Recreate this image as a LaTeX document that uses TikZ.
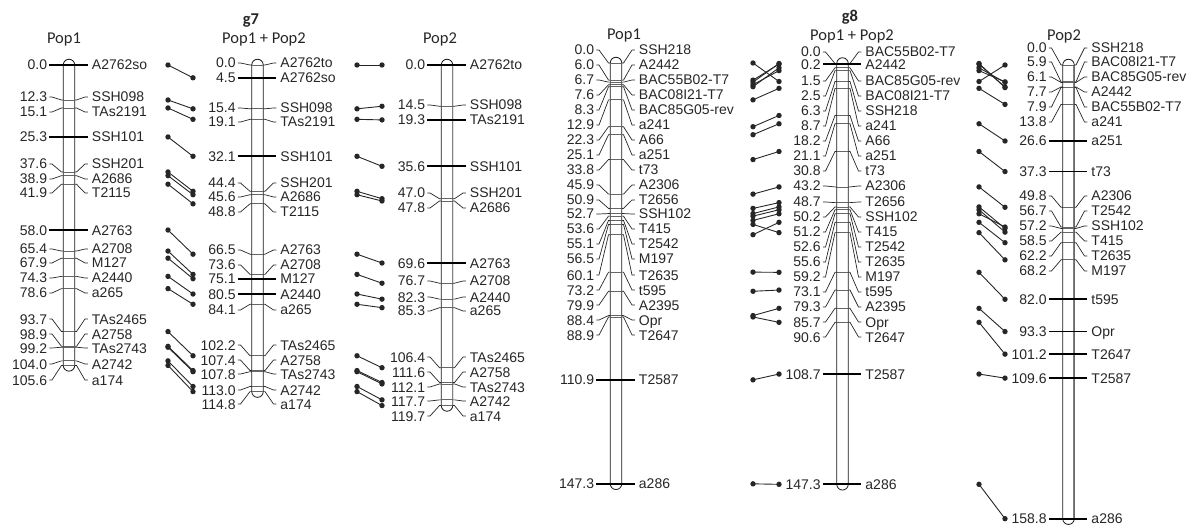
\documentclass[tikz,border=0pt]{standalone}
\usepackage{fontspec}
\setmainfont{Liberation Sans}
\newfontfamily\titlefont{Carlito}
\tikzset{
  lab/.style={font=\fontsize{14}{16}\selectfont, text=black!85, inner sep=0pt, text height=10pt, text depth=0pt},
  ttl/.style={font=\titlefont\fontsize{16.5}{18}\selectfont, text=black!85, inner sep=0pt},
  ttlb/.style={font=\titlefont\bfseries\fontsize{16.5}{18}\selectfont, text=black!85, inner sep=0pt},
  conn/.style={line width=0.7pt, draw=black!85},
  thk/.style={line width=1.8pt, draw=black},
  mytick/.style={line width=0.8pt, draw=black!60},
  barst/.style={line width=0.8pt, draw=black!90, fill=white},
  dotl/.style={line width=0.9pt, draw=black!85},
  dotf/.style={fill=black!85},
}
% bar: #1 xc, #2 y0, #3 y end
\newcommand\drawbar[3]{%
  \draw[barst, rounded corners=5.75pt] ({#1-5.75},{#2-5.75}) rectangle ({#1+5.75},{#3+5.75});}
\newcommand\graybar[3]{%
  \draw[black!50, line width=1.1pt] ({#1+5.2},{#2}) -- ({#1+5.2},{#3});}
% markers: #1 id, #2 xc, #3 y0, #4 scale ; list in \mlist
\newcommand\markers[4]{%
  \foreach \cm/\ly/\nm/\tk in \mlist {%
    \pgfmathsetmacro\ay{#3+#4*\cm}%
    \ifnum\tk=1
      \draw[thk] ({#2-19.75},\ay) -- ({#2+18.75},\ay);
      \node[lab,anchor=east] (#1-num-\nm) at ({#2-21.75},\ay) {\cm};
      \node[lab,anchor=west] (#1-\nm) at ({#2+22.75},\ay) {\nm};
    \else
      \draw[mytick] ({#2-5.75},\ay) -- ({#2+5.75},\ay);
      \draw[conn] ({#2-19.75},\ly) -- ({#2-17},\ly) -- ({#2-7.5},\ay) -- ({#2-5.75},\ay);
      \draw[conn] ({#2+5.75},\ay) -- ({#2+7.5},\ay) -- ({#2+16},\ly) -- ({#2+18.75},\ly);
      \node[lab,anchor=east] (#1-num-\nm) at ({#2-21.75},\ly) {\cm};
      \node[lab,anchor=west] (#1-\nm) at ({#2+22.75},\ly) {\nm};
    \fi
  }}
% links: #1 x1, #2 y0a, #3 sa, #4 x2, #5 y0b, #6 sb ; list in \llist
\newcommand\links[6]{%
  \foreach \pa/\pb in \llist {%
    \pgfmathsetmacro\ya{#2+#3*\pa}%
    \pgfmathsetmacro\yb{#5+#6*\pb}%
    \coordinate (la) at (#1,\ya);
    \coordinate (lb) at (#4,\yb);
    \draw[dotl] (la) -- (lb);
    \fill[dotf] (la) circle (2.7) (lb) circle (2.7);
  }}
\begin{document}
\begin{tikzpicture}[x=1pt,y=-1pt]
\useasboundingbox (0,0) rectangle (1190,526);
% ---------------- titles
\node[ttl] (tA) at (64,40) {Pop1};
\node[ttlb] (tg7) at (251,21) {g7};
\node[ttl] (tB) at (264,39) {Pop1 + Pop2};
\node[ttl] (tC) at (440,39) {Pop2};
\node[ttl] (tD) at (624,36) {Pop1};
\node[ttlb] (tg8) at (850,17) {g8};
\node[ttl] (tE) at (852,36) {Pop1 + Pop2};
\node[ttl] (tF) at (1064,36) {Pop2};
% ---------------- bars
\drawbar{69}{65}{365.4}
\drawbar{257.5}{65}{391.6}
\drawbar{447}{65}{405.5}
\graybar{447}{65}{405.5}
\drawbar{616}{63}{483.8}
\drawbar{842.5}{63.5}{484.3}
\drawbar{1068.5}{65}{518.7}
\graybar{1068.5}{65}{518.7}
% ---------------- g7 Pop1
\def\mlist{0.0/65/A2762so/1, 12.3/97/SSH098/0, 15.1/112/TAs2191/0, 25.3/137/SSH101/1,
 37.6/164/SSH201/0, 38.9/179/A2686/0, 41.9/193/T2115/0, 58.0/230/A2763/1,
 65.4/249/A2708/0, 67.9/263/M127/0, 74.3/278/A2440/0, 78.6/293/a265/0,
 93.7/319/TAs2465/0, 98.9/334/A2758/0, 99.2/348/TAs2743/0, 104.0/364/A2742/0, 105.6/380/a174/0}
\markers{aA}{69}{65}{2.845}
% ---------------- g7 Pop1+Pop2
\def\mlist{0.0/63/A2762to/0, 4.5/79/A2762so/1, 15.4/108/SSH098/0, 19.1/122/TAs2191/0,
 32.1/156/SSH101/1, 44.4/183/SSH201/0, 45.6/197/A2686/0, 48.8/212/T2115/0,
 66.5/250/A2763/0, 73.6/265/A2708/0, 75.1/279/M127/1, 80.5/294/A2440/1,
 84.1/310/a265/0, 102.2/345/TAs2465/0, 107.4/360/A2758/0, 107.8/374/TAs2743/0,
 113.0/390/A2742/0, 114.8/404/a174/0}
\markers{aB}{257.5}{65}{2.845}
% ---------------- g7 Pop2
\def\mlist{0.0/65/A2762to/1, 14.5/105/SSH098/0, 19.3/120/TAs2191/1, 35.6/166/SSH101/1,
 47.0/193/SSH201/0, 47.8/208/A2686/0, 69.6/263/A2763/1, 76.7/281/A2708/0,
 82.3/297/A2440/0, 85.3/311/a265/0, 106.4/357/TAs2465/0, 111.6/372/A2758/0,
 112.1/387/TAs2743/0, 117.7/401/A2742/0, 119.7/416/a174/0}
\markers{aC}{447}{65}{2.845}
% ---------------- g8 Pop1
\def\mlist{0.0/50/SSH218/0, 6.0/65/A2442/0, 6.7/80/BAC55B02-T7/0, 7.6/95/BAC08I21-T7/0,
 8.3/110/BAC85G05-rev/0, 12.9/125/a241/0, 22.3/140/A66/0, 25.1/155/a251/0,
 33.8/170/t73/0, 45.9/185/A2306/0, 50.9/200/T2656/0, 52.7/214/SSH102/0,
 53.6/229/T415/0, 55.1/244/T2542/0, 56.5/259/M197/0, 60.1/275/T2635/0,
 73.2/290/t595/0, 79.9/305/A2395/0, 88.4/320/Opr/0, 88.9/335/T2647/0,
 110.9/381/T2587/1, 147.3/485/a286/1}
\markers{bA}{616}{63}{2.857}
% ---------------- g8 Pop1+Pop2
\def\mlist{0.0/52/BAC55B02-T7/0, 0.2/66/A2442/1, 1.5/81/BAC85G05-rev/0, 2.5/96/BAC08I21-T7/0,
 6.3/111/SSH218/0, 8.7/126/a241/0, 18.2/141/A66/0, 21.1/156/a251/0,
 30.8/171/t73/0, 43.2/186/A2306/0, 48.7/202/T2656/0, 50.2/217/SSH102/0,
 51.2/232/T415/0, 52.6/247/T2542/0, 55.6/262/T2635/0, 59.2/277/M197/0,
 73.1/292/t595/0, 79.3/307/A2395/0, 85.7/322/Opr/0, 90.6/337/T2647/0,
 108.7/374/T2587/1, 147.3/485/a286/1}
\markers{bB}{842.5}{63.5}{2.857}
% ---------------- g8 Pop2
\def\mlist{0.0/48/SSH218/0, 5.9/62/BAC08I21-T7/0, 6.1/77/BAC85G05-rev/0, 7.7/92/A2442/0,
 7.9/107/BAC55B02-T7/0, 13.8/122/a241/0, 26.6/141/a251/1, 37.3/172/t73/1,
 49.8/196/A2306/0, 56.7/211/T2542/0, 57.2/226/SSH102/0, 58.5/241/T415/0,
 62.2/256/T2635/0, 68.2/271/M197/0, 82.0/298/t595/1, 93.3/330/Opr/1,
 101.2/354/T2647/1, 109.6/378/T2587/1, 158.8/518/a286/1}
\markers{bC}{1068.5}{65}{2.857}
% ---------------- links g7
\def\llist{0.0/4.5, 12.3/15.4, 15.1/19.1, 25.3/32.1, 37.6/44.4, 38.9/45.6, 41.9/48.8,
 58.0/66.5, 65.4/73.6, 67.9/75.1, 74.3/80.5, 78.6/84.1, 93.7/102.2, 98.9/107.4,
 99.2/107.8, 104.0/113.0, 105.6/114.8}
\links{168}{65}{2.845}{193}{65}{2.845}
\def\llist{0.0/0.0, 15.4/14.5, 19.1/19.3, 32.1/35.6, 44.4/47.0, 45.6/47.8, 66.5/69.6,
 73.6/76.7, 80.5/82.3, 84.1/85.3, 102.2/106.4, 107.4/111.6, 107.8/112.1, 113.0/117.7, 114.8/119.7}
\links{357}{65}{2.845}{382}{65}{2.845}
% ---------------- links g8
\def\llist{0.0/6.3, 6.0/0.2, 6.7/0.0, 7.6/2.5, 8.3/1.5, 12.9/8.7, 22.3/18.2, 25.1/21.1,
 33.8/30.8, 45.9/43.2, 50.9/48.7, 52.7/50.2, 53.6/51.2, 55.1/52.6, 56.5/59.2, 60.1/55.6,
 73.2/73.1, 79.9/79.3, 88.4/85.7, 88.9/90.6, 110.9/108.7, 147.3/147.3}
\links{753}{63}{2.857}{779}{63.5}{2.857}
\def\llist{6.3/0.0, 2.5/5.9, 1.5/6.1, 0.2/7.7, 0.0/7.9, 8.7/13.8, 21.1/26.6, 30.8/37.3,
 43.2/49.8, 52.6/56.7, 50.2/57.2, 51.2/58.5, 55.6/62.2, 59.2/68.2, 73.1/82.0, 85.7/93.3,
 90.6/101.2, 108.7/109.6, 147.3/158.8}
\links{979}{63.5}{2.857}{1005}{65}{2.857}
\end{tikzpicture}
\end{document}
